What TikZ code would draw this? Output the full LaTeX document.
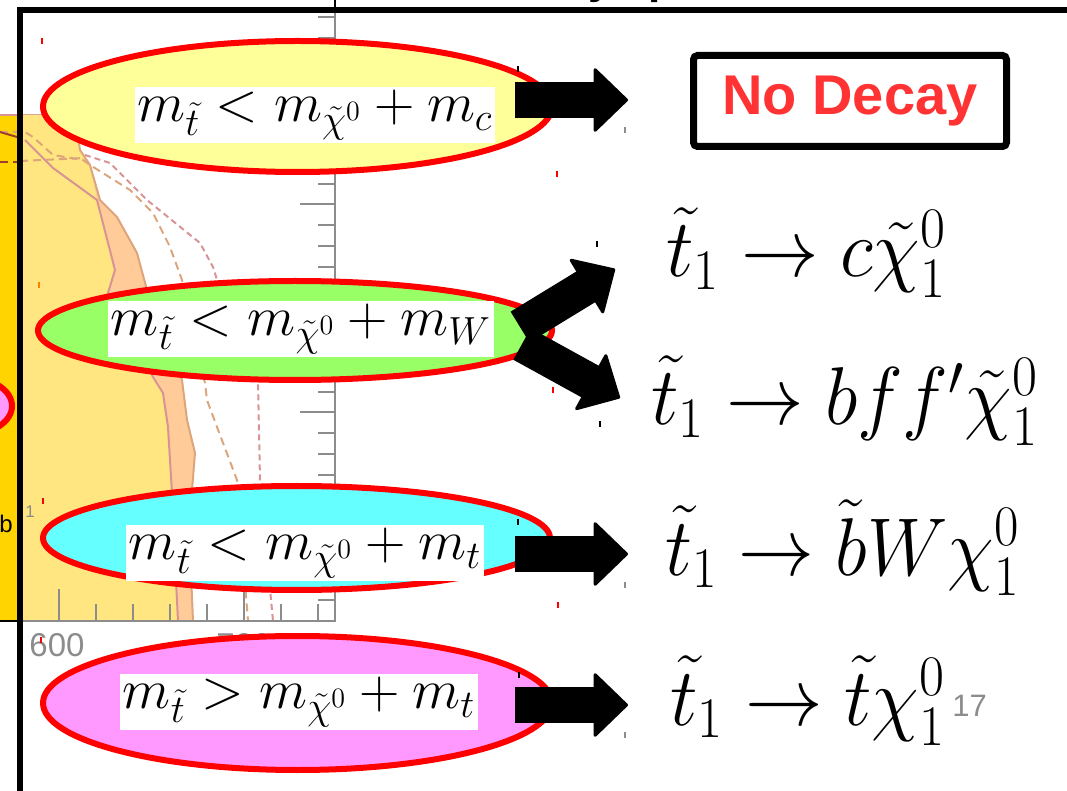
\RequirePackage{fix-cm}
\documentclass[tikz,border=0pt]{standalone}
\usepackage{fontspec}
\newfontfamily\arialfont{Liberation Sans}
\usetikzlibrary{shapes.geometric,arrows.meta}
\definecolor{condred}{HTML}{FF0000}
\definecolor{ycol}{HTML}{FFFF99}
\definecolor{gcol}{HTML}{99FF66}
\definecolor{ccol}{HTML}{66FFFF}
\definecolor{pcol}{HTML}{FF99FF}
\definecolor{goldcol}{HTML}{FFD400}
\definecolor{exclcol}{HTML}{FFE680}
\definecolor{peachcol}{HTML}{FFCC99}
\definecolor{lineA}{HTML}{D89494}
\definecolor{lineB}{HTML}{DDA57C}
\definecolor{darkline}{HTML}{A0402A}
\definecolor{axiscol}{HTML}{8C8C8C}
\definecolor{ndred}{HTML}{FF3333}
\begin{document}
\begin{tikzpicture}[x=0.5pt,y=-0.5pt,
  cond/.style={ellipse, draw=condred, line width=3pt, inner sep=0pt},
  condtext/.style={fill=white, inner sep=1.5pt, font=\fontsize{28}{34}\selectfont},
  decay/.style={anchor=base west, inner sep=0pt, font=\fontsize{41}{49}\selectfont},
  blockarr/.style={line width=18pt, -{Triangle[width=33.5pt,length=17.5pt,line width=1.5pt,round]}},
  axtick/.style={axiscol, line width=1pt},
  axlab/.style={axiscol, inner sep=0pt, font=\arialfont\fontsize{16.5}{20}\selectfont},
  curve/.style={line width=1pt}]
  \clip (0,0) rectangle (1067,791);

  \fill[goldcol] (0,115) rectangle (17,621);
  \draw[lineA, curve] (0,115) -- (75,115);
  \fill[peachcol] (20,115) -- (75,115) -- (80,150) -- (90,165) -- (100,200) -- (117,217) -- (137,253)
    -- (147,290) -- (182,380) -- (187,420) -- (195,453) -- (192,490) -- (190,550) -- (193,621) -- (20,621) -- cycle;
  \fill[exclcol] (20,115) -- (75,115) -- (80,150) -- (90,165) -- (97,200) -- (115,270) -- (108,293)
    -- (153,377) -- (163,393) -- (168,427) -- (172,493) -- (175,560) -- (178,621) -- (20,621) -- cycle;
  \draw[lineA, curve] (25,140) -- (53,168) -- (97,200) -- (115,270) -- (108,293) -- (153,377) -- (163,393)
    -- (168,427) -- (172,493) -- (175,560) -- (178,621);
  \draw[lineB, curve] (75,115) -- (80,150) -- (90,165) -- (100,200) -- (117,217) -- (137,253) -- (147,290)
    -- (182,380) -- (187,420) -- (195,453) -- (192,490) -- (190,550) -- (193,621);
  \draw[lineB, curve, dash pattern=on 4pt off 2.5pt] (0,132) -- (25,132) -- (33,137) -- (53,155) -- (83,160)
    -- (90,165) -- (130,190) -- (153,213) -- (170,247) -- (182,280) -- (205,383) -- (207,400) -- (217,427)
    -- (237,480) -- (248,621);
  \draw[lineA, curve, dash pattern=on 3pt off 2pt] (85,155) -- (110,163) -- (147,200) -- (200,243) -- (213,267)
    -- (218,283) -- (258,383) -- (260,480) -- (273,621);
  \draw[darkline, curve, dash pattern=on 4pt off 2.5pt] (0,162) -- (20,162);
  \draw[lineB, curve, dash pattern=on 4pt off 2.5pt] (20,161) -- (85,158);
  \draw[darkline, curve] (0,132) -- (17,137);

  \draw[axiscol, line width=1pt] (17,621) -- (335,621) -- (335,0);
  \foreach \k in {1,...,29} {
    \pgfmathtruncatemacro\len{mod(\k,10)==0 ? 35 : 17}
    \draw[axtick] (335,620.5-20.8*\k) -- ++(-\len,0);
  }
  \foreach \k in {0,...,7} {
    \pgfmathtruncatemacro\len{mod(\k,5)==0 ? 32 : 17}
    \draw[axtick] (59+37*\k,621) -- ++(0,-\len);
  }
  \foreach \x/\lab in {57/600, 244/700}
    \node[axlab] (lab\lab) at (\x,645) {\lab};
  \draw[black, line width=1pt] (335,0) -- (335,10);
  \draw[black, line width=1pt] (0,621) -- (20,621);
  \node[anchor=base west, inner sep=0pt, font=\arialfont\fontsize{12}{14}\selectfont] (bfrag) at (-1,532) {b};
  \node[anchor=base west, inner sep=0pt, axiscol, font=\arialfont\fontsize{8.5}{10}\selectfont] (onefrag) at (25,517) {1};

  \node[cond, fill=pcol, minimum width=42pt, minimum height=28pt] (sidecond) at (-30,406) {};

  \draw[black, line width=3pt] (20,791) -- (20,10) -- (1067,10);
  \node[anchor=base west, inner sep=0pt, font=\arialfont\bfseries\fontsize{22}{26}\selectfont] (tfrag1) at (588,-6) {y};
  \node[anchor=base west, inner sep=0pt, font=\arialfont\bfseries\fontsize{22}{26}\selectfont] (tfrag2) at (648,-6) {p};

  \node[cond, fill=ycol, minimum width=254.5pt, minimum height=65.5pt] (ycond) at (297.5,106.5) {};
  \node[cond, fill=gcol, minimum width=257pt, minimum height=49.5pt] (gcond) at (295,330.5) {};
  \node[cond, fill=ccol, minimum width=253.5pt, minimum height=52pt] (ccond) at (296.5,538) {};
  \node[cond, fill=pcol, minimum width=254.5pt, minimum height=67pt] (pcond) at (297.5,703) {};

  \node[condtext] (ytext) at (315,115) {$m_{\tilde{t}} < m_{\tilde{\chi}^0} + m_c$};
  \node[condtext] (gtext) at (301,329) {$m_{\tilde{t}} < m_{\tilde{\chi}^0} + m_W$};
  \node[condtext] (ctext) at (305,553) {$m_{\tilde{t}} < m_{\tilde{\chi}^0} + m_t$};
  \node[condtext] (ptext) at (299,702) {$m_{\tilde{t}} > m_{\tilde{\chi}^0} + m_t$};

  \node[draw=black, line width=3.5pt, rounded corners=2pt, minimum width=156.5pt, minimum height=45.5pt,
    text=ndred, font=\arialfont\bfseries\fontsize{28}{34}\selectfont] (nodecay) at (850,101) {No Decay};

  \foreach \nm/\x/\y/\sx/\f in {
    dcharm/666/277/0.945/{\tilde{t}_1 \to c\tilde{\chi}_1^0},
    dfour/651/425/0.945/{\tilde{t}_1 \to b f f' \tilde{\chi}_1^0},
    dsbot/665/575/0.925/{\tilde{t}_1 \to \tilde{b} W \chi_1^0},
    dtop/670/725/0.945/{\tilde{t}_1 \to \tilde{t}\chi_1^0}
  }
    \node[decay] (\nm) at (\x,\y) {\scalebox{\sx}[1]{$\f$}};
  \node[anchor=base west, inner sep=0pt, axiscol, font=\arialfont\fontsize{15.5}{18}\selectfont] (pagenum) at (952,716) {17};

  \foreach \x/\y/\c in {42/38/red, 43/498/red, 41/637/red, 557/171/red, 558/602/red, 553/387/red,
      39/282/orange, 625/127/axiscol, 625/582/axiscol, 625/732/axiscol,
      518/66/black, 518/519/black, 519/672/black, 597/241/black, 600/421/black}
    \draw[\c, line width=0.6pt] (\x,\y) -- ++(0,6);

  \coordinate (ya) at (515,100);   \coordinate (yb) at (628,100);
  \coordinate (gua) at (520,327);  \coordinate (gub) at (615,269);
  \coordinate (gda) at (522,344);  \coordinate (gdb) at (620,398);
  \coordinate (ca) at (515,554);   \coordinate (cb) at (628,554);
  \coordinate (pa) at (515,705);   \coordinate (pb) at (628,705);
  \foreach \from/\to in {ya/yb, gua/gub, gda/gdb, ca/cb, pa/pb}
    \draw[blockarr] (\from) -- (\to);
\end{tikzpicture}
\end{document}
